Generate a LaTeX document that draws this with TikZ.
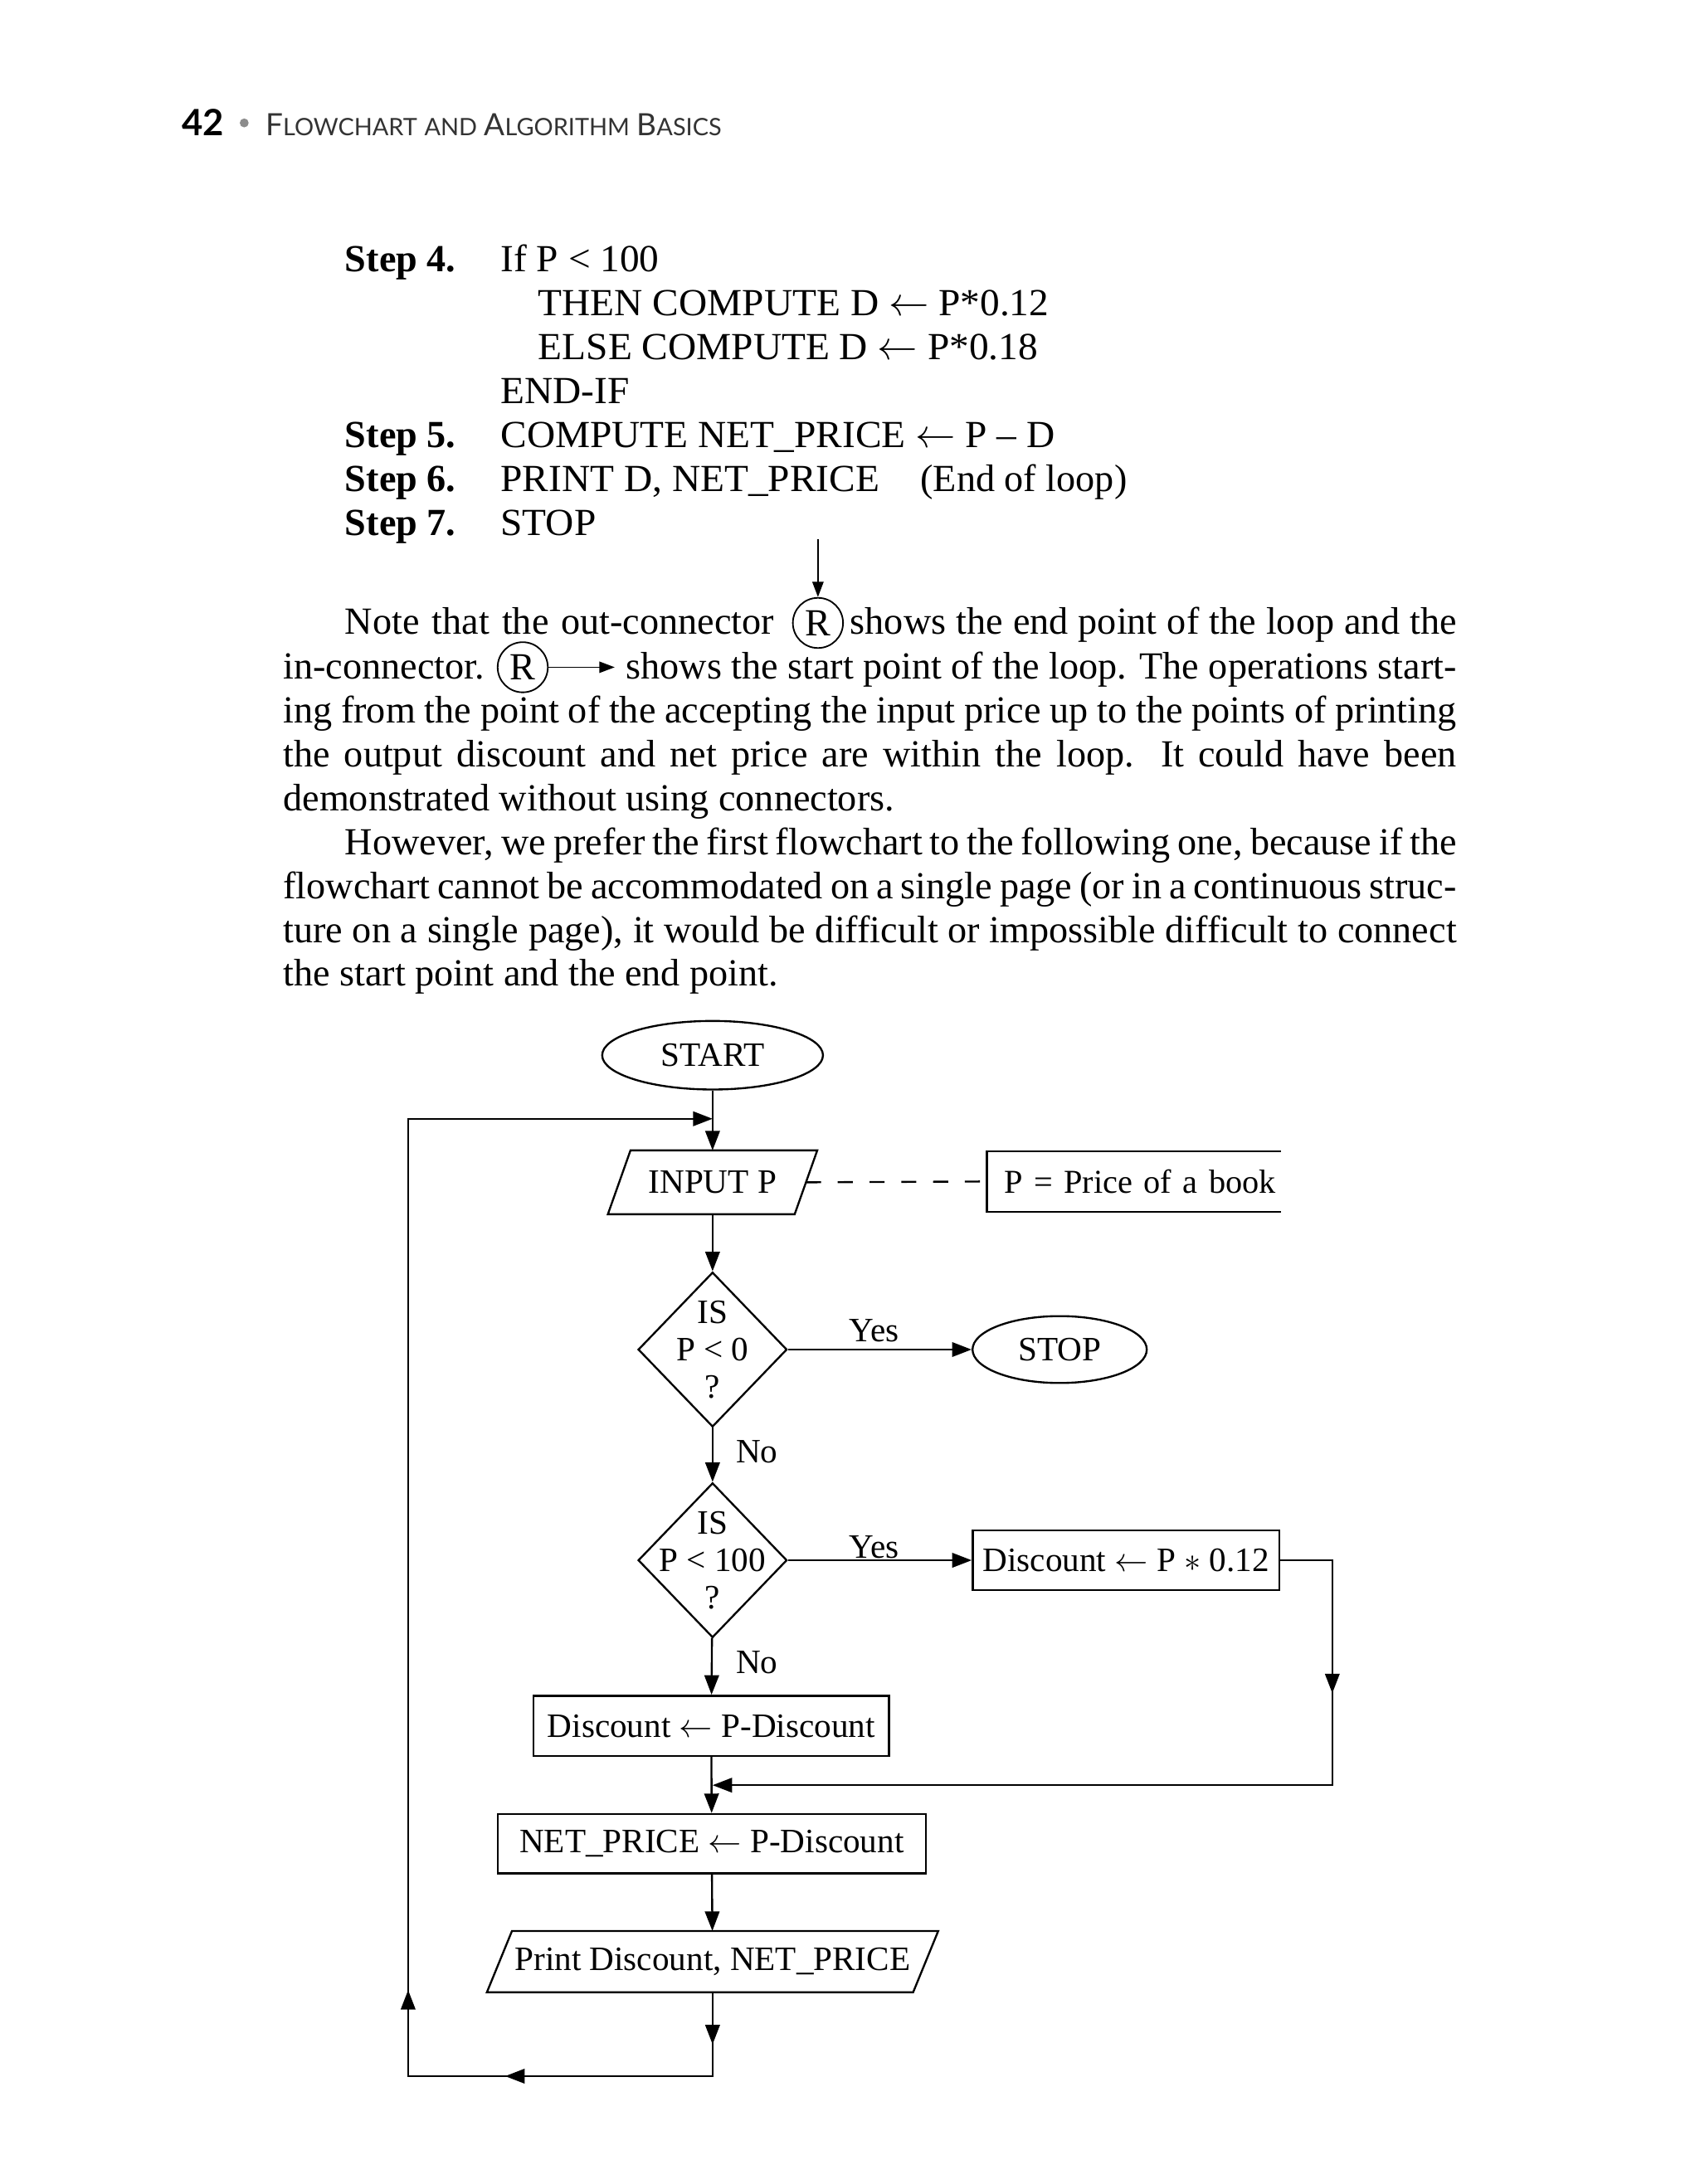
\documentclass[tikz,border=0pt]{standalone}
\usepackage{fontspec}
\setmainfont{Liberation Serif}
\newfontfamily\capsfont[FakeStretch=1.025,Ligatures=TeX]{Liberation Serif}
\newfontfamily\hdrfont{Lato}
\usetikzlibrary{arrows.meta,shapes.geometric}
\newcommand\jl[2]{\makebox[#1][s]{#2}}
\newcommand\fsc[2]{{\fontsize{11}{12}\selectfont #1}{\fontsize{8.6}{12}\selectfont #2}}
\tikzset{
  arr/.style={-{Triangle[length=7pt,width=5.2pt]}},
  sarr/.style={-{Triangle[length=5.5pt,width=4pt]}},
  ln/.style={line width=0.7pt},
  body/.style={font=\fontsize{13.75}{15}\selectfont, inner sep=0pt, anchor=base west},
  stp/.style={font=\capsfont\fontsize{13.75}{15}\selectfont, inner sep=0pt, anchor=base west},
  fc/.style={font=\fontsize{12.25}{13.3}\selectfont},
  procbox/.style={draw, line width=0.7pt, rectangle, inner sep=0pt, fc},
  iobox/.style={rectangle, inner sep=0pt, fc},
  term/.style={draw, line width=0.7pt, ellipse, inner sep=0pt, fc},
  decbox/.style={draw, line width=0.7pt, diamond, inner sep=0pt, minimum width=53.4pt, minimum height=55.5pt},
  dectext/.style={fc, align=center, inner sep=0pt},
  conn/.style={draw, circle, line width=0.55pt, inner sep=0pt, minimum size=18pt, font=\fontsize{13.75}{15}\selectfont},
  lbl/.style={fc, inner sep=0pt}
}
\begin{document}
\begin{tikzpicture}[x=0.3pt,y=-0.3pt]
\useasboundingbox (0,0) rectangle (2032,2612);

% header
\node[anchor=base west, inner sep=0pt, font=\hdrfont\bfseries\fontsize{13}{13}\selectfont] (pg) at (217,162) {42};
\node[circle, fill=black!45, inner sep=0pt, minimum size=3.2pt] (dot) at (292,147) {};
\node[anchor=base west, inner sep=0pt, text=black!80, font=\hdrfont] (title) at (317,162)
  {\fsc{F}{LOWCHART} \fsc{}{AND} \fsc{A}{LGORITHM} \fsc{B}{ASICS}};

% algorithm steps
\node[body] (s4) at (412,325) {\textbf{Step 4.}};
\node[stp] (s4t) at (598,325) {If P < 100};
\node[stp] (s4a) at (643,377.5) {THEN COMPUTE D $\leftarrow$ P*0.12};
\node[stp] (s4b) at (643,430) {ELSE COMPUTE D $\leftarrow$ P*0.18};
\node[stp] (s4c) at (598,482.5) {END-IF};
\node[body] (s5) at (412,535) {\textbf{Step 5.}};
\node[stp] (s5t) at (598,535) {COMPUTE NET\_PRICE $\leftarrow$ P \textendash{} D};
\node[body] (s6) at (412,587.5) {\textbf{Step 6.}};
\node[stp] (s6t) at (598,587.5) {PRINT D, NET\_PRICE};
\node[body] (s6c) at (1100,587.5) {(End of loop)};
\node[body] (s7) at (412,640) {\textbf{Step 7.}};
\node[stp] (s7t) at (598,640) {STOP};

% paragraph
\coordinate (atop) at (978,645);
\node[conn] (rout) at (978,745) {R};
\draw[line width=0.55pt,sarr] (atop) -- (rout);
\node[body] (l1a) at (412,758) {\jl{153.9pt}{Note that the out-connector}};
\node[body] (l1b) at (1016,758) {\jl{217.5pt}{shows the end point of the loop and the}};
\node[body] (l2a) at (338,812) {in-connector.};
\node[conn] (rin) at (625,798) {R};
\coordinate (rinend) at (735,798);
\draw[line width=0.55pt,sarr] (rin) -- (rinend);
\node[body] (l2b) at (748,812) {\jl{297.9pt}{shows the start point of the loop. The operations start-}};
\node[body] (l3) at (338,865) {\jl{420.9pt}{ing from the point of the accepting the input price up to the points of printing}};
\node[body] (l4) at (338,917) {\jl{420.9pt}{the output discount and net price are within the loop. It could have been}};
\node[body] (l5) at (338,970) {demonstrated without using connectors.};
\node[body] (l6) at (412,1022) {\jl{398.7pt}{However, we prefer the first flowchart to the following one, because if the}};
\node[body] (l7) at (338,1075) {\jl{420.9pt}{flowchart cannot be accommodated on a single page (or in a continuous struc-}};
\node[body] (l8) at (338,1127) {\jl{420.9pt}{ture on a single page), it would be difficult or impossible difficult to connect}};
\node[body] (l9) at (338,1179) {the start point and the end point.};

% flowchart nodes
\node[term, minimum width=79.2pt, minimum height=24.6pt] (start) at (852,1262) {START};
\node[iobox, minimum width=66.6pt, minimum height=22.5pt] (input) at (852,1414) {INPUT P};
\draw[ln] ([xshift=-4.05pt]input.south west) -- ([xshift=4.05pt]input.north west)
  -- ([xshift=4.05pt]input.north east) -- ([xshift=-4.05pt]input.south east) -- cycle;
\node[iobox, anchor=west, text width=93pt, inner xsep=6pt, minimum height=21.3pt, align=left, font=\fontsize{12}{13}\selectfont] (note) at (1180,1413) {\mbox{P = Price of a book}};
\draw[ln] (note.north east) -- (note.north west) -- (note.south west) -- (note.south east);
\node[decbox] (d1) at (852,1614) {};
\node[dectext] (d1t) at (852,1614) {IS\\P < 0\\?};
\node[term, minimum width=62.5pt, minimum height=24pt] (stop) at (1267,1614) {STOP};
\node[decbox] (d2) at (852,1866) {};
\node[dectext] (d2t) at (852,1866) {IS\\P < 100\\?};
\node[procbox, minimum width=110.1pt, minimum height=21.6pt] (disc1) at (1346.5,1866) {Discount $\leftarrow$ P $\ast$ 0.12};
\node[procbox, minimum width=127.5pt, minimum height=21.6pt] (disc2) at (850.5,2064) {Discount $\leftarrow$ P-Discount};
\node[procbox, minimum width=153.6pt, minimum height=21.3pt] (net) at (851,2205) {NET\_PRICE $\leftarrow$ P-Discount};
\node[iobox, minimum width=152.5pt, minimum height=21.6pt] (print) at (852,2346) {Print Discount, NET\_PRICE};
\draw[ln] ([xshift=-4.5pt]print.south west) -- ([xshift=4.5pt]print.north west)
  -- ([xshift=4.5pt]print.north east) -- ([xshift=-4.5pt]print.south east) -- cycle;

% labels
\node[lbl] (y1) at (1045,1591) {Yes};
\node[lbl] (y2) at (1045,1850) {Yes};
\node[lbl] (n1) at (905,1736) {No};
\node[lbl] (n2) at (905,1988) {No};

% coordinates
\coordinate (j1) at (852,1338);
\coordinate (j2) at (852,2135);
\coordinate (r1) at (1593,1866);
\coordinate (r2) at (1593,2135);
\coordinate (r2m) at (1593,2025);
\coordinate (b1) at (852,2445);
\coordinate (lb) at (852,2483);
\coordinate (b2) at (604,2483);
\coordinate (ll) at (488,2483);
\coordinate (b3) at (488,2380);
\coordinate (lt) at (488,1338);

% connectors
\draw[ln,arr] (start) -- (input);
\draw[ln,dash pattern=on 5.4pt off 6pt] (input.east) -- (note.west);
\draw[ln,arr] (input) -- (d1);
\draw[ln,arr] (d1) -- (stop);
\draw[ln,arr] (d1) -- (d2);
\draw[ln,arr] (d2) -- (disc1);
\draw[ln,arr] (d2) -- (disc2);
\draw[ln,arr] (disc2) -- (net);
\draw[ln,arr] (net) -- (print);
\draw[ln,arr] (disc1) -- (r1) -- (r2) -- (j2);
\draw[ln,arr] (r1) -- (r2m);
\draw[ln,arr] (print) -- (lb) -- (ll) -- (lt) -- (j1);
\draw[ln,arr] (print) -- (b1);
\draw[ln,arr] (lb) -- (b2);
\draw[ln,arr] (ll) -- (b3);
\end{tikzpicture}
\end{document}
